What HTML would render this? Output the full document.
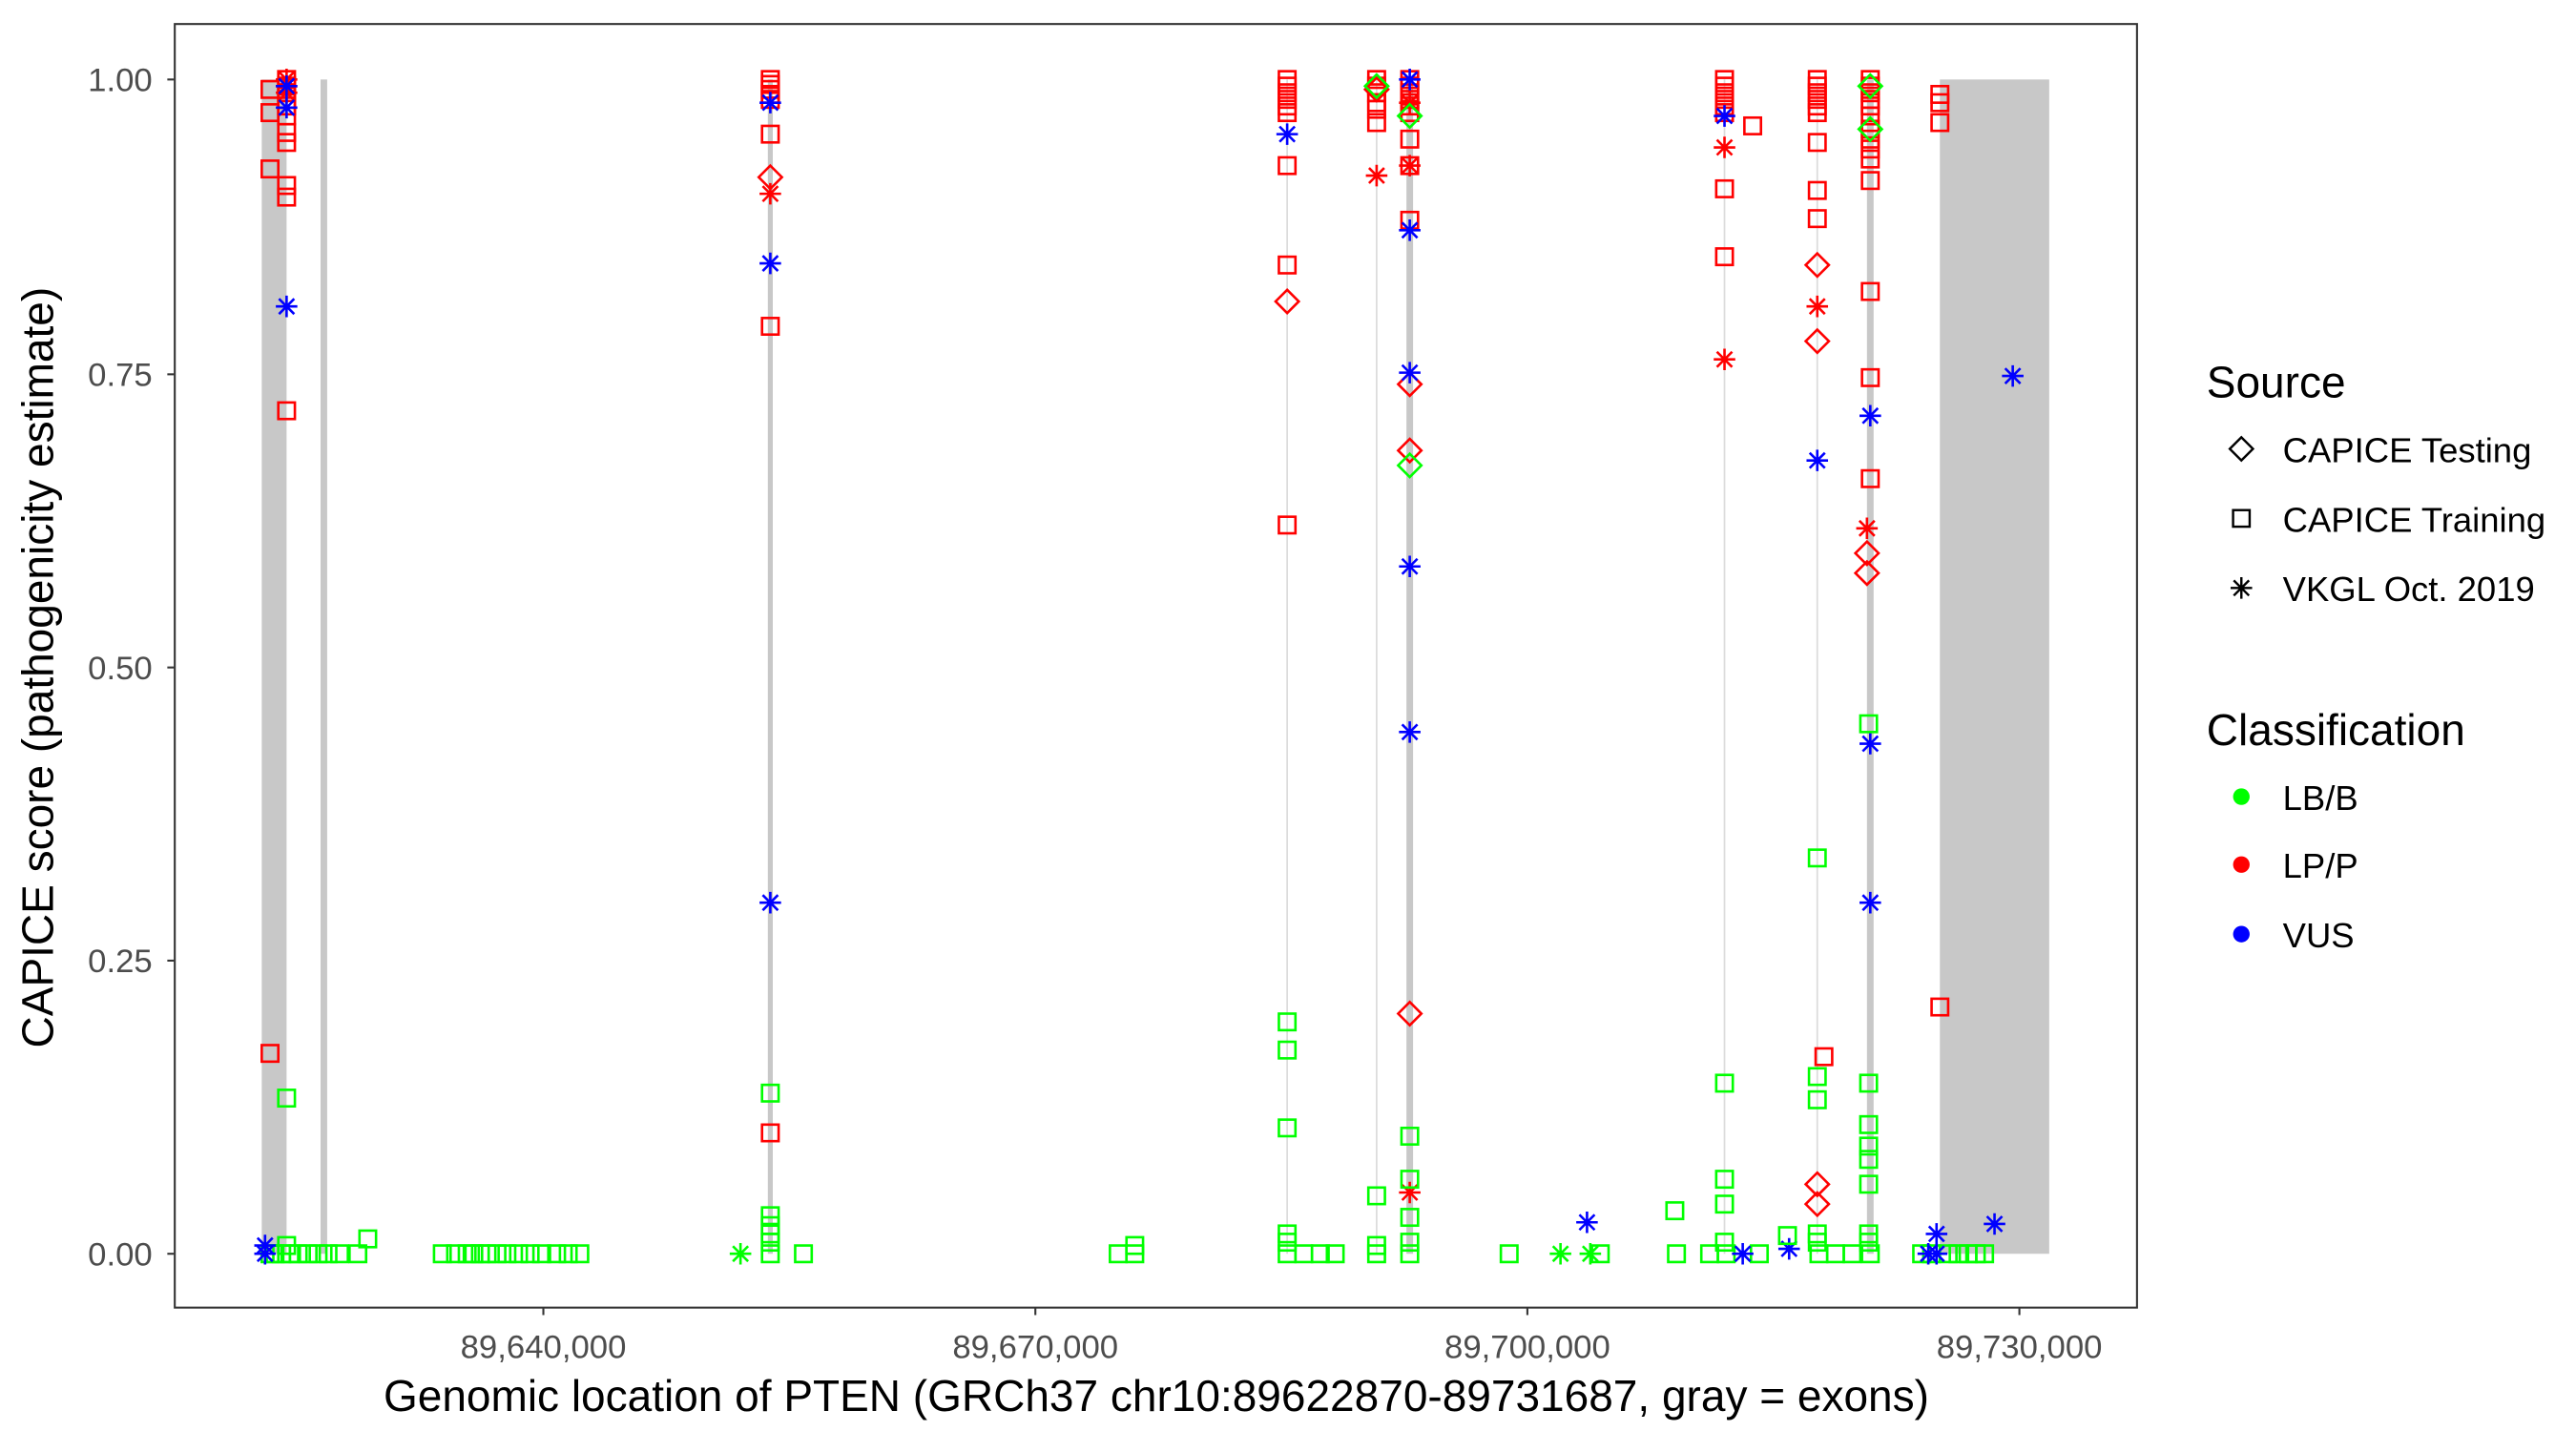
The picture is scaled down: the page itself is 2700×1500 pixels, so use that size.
<!DOCTYPE html>
<html><head><meta charset="utf-8"><style>
html,body{margin:0;padding:0;background:#fff;}
svg{display:block;}
text{font-family:"Liberation Sans",Arial,sans-serif;}
</style></head><body>
<svg id="s" width="2700" height="1500" viewBox="0 0 1555 864" preserveAspectRatio="none" xmlns="http://www.w3.org/2000/svg">
<rect x="0" y="0" width="1555" height="864" fill="#fff"/>
<g fill="#c8c8c8" stroke="none">
<rect x="158" y="48" width="15" height="709"/>
<rect x="193.5" y="48" width="4" height="709"/>
<rect x="463.5" y="48" width="3" height="709"/>
<rect x="776.5" y="48" width="1" height="709" fill="#dcdcdc"/>
<rect x="830.5" y="48" width="1" height="709" fill="#dcdcdc"/>
<rect x="849" y="48" width="4" height="709"/>
<rect x="1040.5" y="48" width="1" height="709" fill="#dcdcdc"/>
<rect x="1096.5" y="48" width="1" height="709" fill="#dcdcdc"/>
<rect x="1127" y="48" width="4" height="709"/>
<rect x="1171" y="48" width="66" height="709"/>
</g>
<g id="pts" fill="none" stroke-width="1.5"></g>
<rect x="105.5" y="14.5" width="1184.5" height="775" fill="none" stroke="#333" stroke-width="1.2"/>
<g stroke="#333" stroke-width="1.2">
<line x1="101" y1="48" x2="105" y2="48"/><line x1="101" y1="226" x2="105" y2="226"/>
<line x1="101" y1="403" x2="105" y2="403"/><line x1="101" y1="580" x2="105" y2="580"/>
<line x1="101" y1="757" x2="105" y2="757"/>
<line x1="328" y1="790" x2="328" y2="794"/><line x1="625" y1="790" x2="625" y2="794"/>
<line x1="922" y1="790" x2="922" y2="794"/><line x1="1219" y1="790" x2="1219" y2="794"/>
</g>
<g fill="#4d4d4d" font-size="20" text-anchor="end">
<text x="92" y="55">1.00</text><text x="92" y="233">0.75</text><text x="92" y="410">0.50</text>
<text x="92" y="587">0.25</text><text x="92" y="764">0.00</text>
</g>
<g fill="#4d4d4d" font-size="20" text-anchor="middle">
<text x="328" y="820">89,640,000</text><text x="625" y="820">89,670,000</text>
<text x="922" y="820">89,700,000</text><text x="1219" y="820">89,730,000</text>
</g>
<text x="698" y="852" font-size="26.5" text-anchor="middle" fill="#000">Genomic location of PTEN (GRCh37 chr10:89622870-89731687, gray = exons)</text>
<text transform="translate(32,403) rotate(-90)" font-size="26.5" text-anchor="middle" fill="#000">CAPICE score (pathogenicity estimate)</text>
<text x="1332" y="240" font-size="26.5" fill="#000">Source</text>
<text x="1378" y="279" font-size="21" fill="#000">CAPICE Testing</text>
<text x="1378" y="321" font-size="21" fill="#000">CAPICE Training</text>
<text x="1378" y="363" font-size="21" fill="#000">VKGL Oct. 2019</text>
<text x="1332" y="450" font-size="26.5" fill="#000">Classification</text>
<text x="1378" y="489" font-size="21" fill="#000">LB/B</text>
<text x="1378" y="530" font-size="21" fill="#000">LP/P</text>
<text x="1378" y="572" font-size="21" fill="#000">VUS</text>
<circle cx="1353" cy="481" r="5" fill="#00ff00"/>
<circle cx="1353" cy="522" r="5" fill="#ff0000"/>
<circle cx="1353" cy="564" r="5" fill="#0000ff"/>
<g id="leg" fill="none" stroke="#000" stroke-width="1.4"></g>
</svg>
<script>
var NS="http://www.w3.org/2000/svg";
var C={g:"#00ff00",r:"#ff0000",b:"#0000ff",k:"#000"};
function mk(g,t,col,x,y){
  var e;
  if(t=="s"){e=document.createElementNS(NS,"rect");e.setAttribute("x",x-5);e.setAttribute("y",y-5);e.setAttribute("width",10);e.setAttribute("height",10);}
  else if(t=="d"){e=document.createElementNS(NS,"path");e.setAttribute("d","M"+x+","+(y-7)+"L"+(x+7)+","+y+"L"+x+","+(y+7)+"L"+(x-7)+","+y+"Z");}
  else {e=document.createElementNS(NS,"path");var r=6.5,q=4.6;e.setAttribute("d","M"+x+","+(y-r)+"V"+(y+r)+"M"+(x-r)+","+y+"H"+(x+r)+"M"+(x-q)+","+(y-q)+"L"+(x+q)+","+(y+q)+"M"+(x-q)+","+(y+q)+"L"+(x+q)+","+(y-q));}
  e.setAttribute("stroke",C[col]);g.appendChild(e);
}
var P=document.getElementById("pts");
function add(t,col,x,ys){ys.forEach(function(y){mk(P,t,col,x,y);});}
[163,166,170,175,180,186,192,198,205,216,267,275,282,286,290,294,300,306,313,320,327,336,343,350,465,485,675,685,777,787,797,806,831,851,911,966,1012,1032,1042,1062,1098,1108,1118,1129,1160,1166,1176,1182,1188,1193,1198].forEach(function(x){mk(P,"s","g",x,757);});
add("s","g",222,[748]);add("s","g",685,[752]);
add("s","r",163,[54,68,102,636]);
add("s","r",173,[48,52,56,60,64,70,80,86,112,119,248]);
add("s","g",173,[663,752]);
add("a","r",173,[48,52,56]);
add("a","b",173,[52,65,185]);
add("a","b",160,[752,757]);
add("s","r",465,[48,51,54,57,60,81,197,684]);
add("d","r",465,[107]);add("a","r",465,[117]);
add("a","b",465,[62,159,545]);
add("s","g",465,[660,734,740,745,750]);
add("a","g",447,[757]);
add("s","r",777,[48,52,56,60,64,68,100,160,317]);
add("d","r",777,[182]);add("a","b",777,[81]);
add("s","g",777,[617,634,681,745,750]);
add("s","r",831,[48,52,56,62,66,74]);
add("d","r",831,[54]);add("d","g",831,[52]);
add("a","r",831,[106]);
add("s","g",831,[722,752]);
add("s","r",851,[48,52,56,60,64,68,84,100,133]);
add("d","r",851,[232,272,612]);
add("a","r",851,[62,100,720]);
add("a","b",851,[48,139,225,342,442]);
add("d","g",851,[281]);add("d","g",851,[70]);
add("s","g",851,[686,712,735,750]);
add("a","g",942,[757]);add("a","g",960,[757]);add("a","b",958,[738]);
add("s","r",1041,[48,52,56,60,64,68,114,155]);
add("a","r",1041,[89,217]);add("a","b",1041,[70]);
add("s","g",1041,[654,712,727,750]);
add("s","g",1011,[731]);add("s","r",1058,[76]);
add("a","b",1052,[757]);add("a","b",1080,[754]);add("s","g",1079,[746]);
add("s","r",1097,[48,52,56,60,64,68,86,115,132]);add("s","r",1101,[638]);
add("d","r",1097,[160,206,715,727]);add("a","r",1097,[185]);
add("a","b",1097,[278]);
add("s","g",1097,[518,650,664,745,750]);
add("s","r",1129,[48,52,56,60,64,70,78,84,90,96,109,176,228,289]);
add("d","r",1127,[334,346]);add("a","r",1127,[319]);
add("d","g",1129,[52,78]);
add("a","b",1129,[251,449,545]);
add("s","g",1128,[437,654,679,692,700,715,745,750]);
add("s","r",1171,[57,62,74,608]);
add("a","b",1169,[745,757]);add("a","b",1164,[757]);
add("a","b",1204,[739]);add("a","b",1215,[227]);
var L=document.getElementById("leg");
mk(L,"d","k",1353,271);mk(L,"s","k",1353,313);mk(L,"a","k",1353,355);
</script>
</body></html>
